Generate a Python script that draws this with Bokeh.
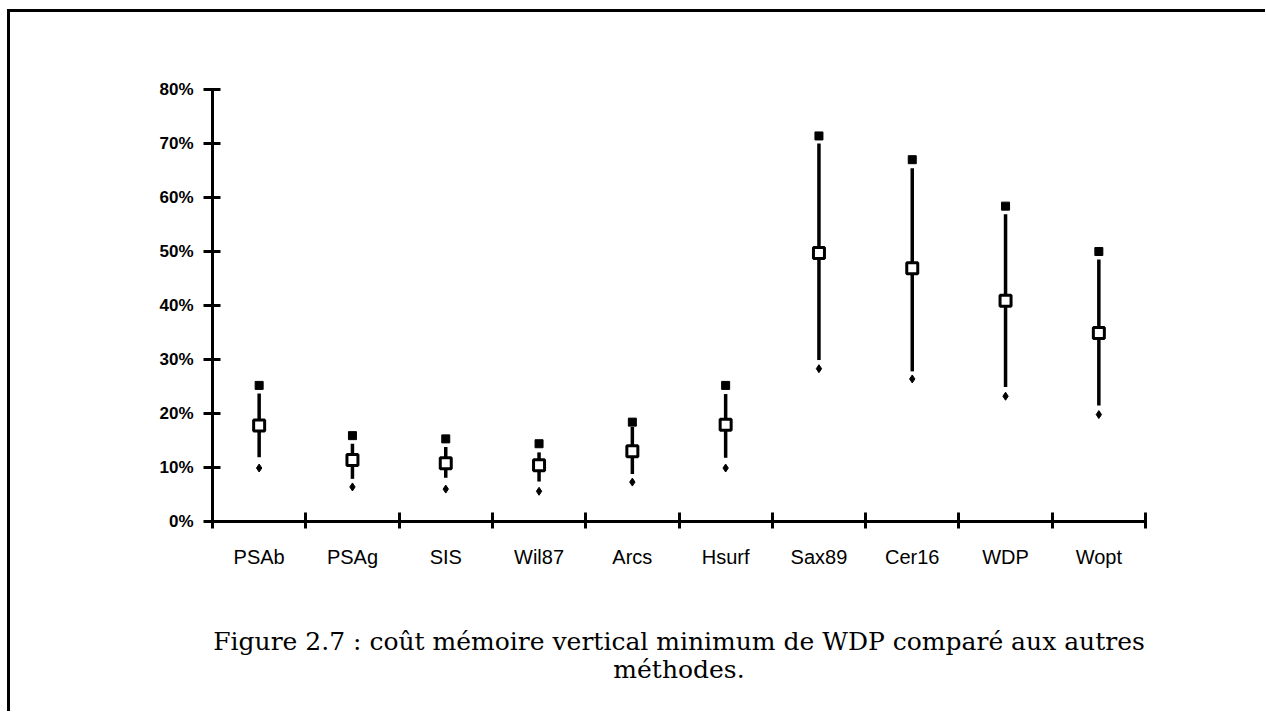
from bokeh.plotting import figure
from bokeh.models import Range1d, FixedTicker, PrintfTickFormatter, Title, ColumnDataSource
from bokeh.embed import file_html
from bokeh.resources import INLINE

categories = ["PSAb", "PSAg", "SIS", "Wil87", "Arcs", "Hsurf", "Sax89", "Cer16", "WDP", "Wopt"]
max_vals = [25.2, 15.9, 15.3, 14.4, 18.4, 25.2, 71.4, 67.0, 58.4, 50.0]
line_top = [23.7, 14.4, 13.8, 12.8, 17.5, 23.6, 70.0, 65.4, 56.9, 48.5]
mean_vals = [17.8, 11.4, 10.8, 10.4, 13.0, 17.9, 49.7, 46.9, 40.9, 34.9]
line_bottom = [11.9, 7.9, 8.1, 7.4, 8.8, 11.8, 29.9, 27.8, 24.9, 21.5]
min_vals = [9.9, 6.4, 6.0, 5.6, 7.3, 9.9, 28.3, 26.4, 23.2, 19.8]
y_ticks = [0, 10, 20, 30, 40, 50, 60, 70, 80]
caption_1 = "Figure 2.7 : coût mémoire vertical minimum de WDP comparé aux autres"
caption_2 = "méthodes."

xs = [i + 0.5 for i in range(len(categories))]
src = ColumnDataSource(dict(x=xs, mx=max_vals, top=line_top, mean=mean_vals,
                            bot=line_bottom, mn=min_vals))

p = figure(frame_width=933, frame_height=432, min_border_left=202, min_border_right=120,
           min_border_top=77, min_border_bottom=190,
           x_range=Range1d(0, len(categories)), y_range=Range1d(0, 80),
           output_backend="svg", toolbar_location=None)
p.styles = {"border-left": "3px solid black", "border-top": "3px solid black",
            "margin-left": "7px", "margin-top": "9px"}
p.outline_line_color = None
p.xgrid.visible = False
p.ygrid.visible = False

# y axis
ya = p.yaxis[0]
ya.ticker = FixedTicker(ticks=y_ticks, minor_ticks=[])
ya.formatter = PrintfTickFormatter(format="%d%%")
ya.axis_line_width = 3
ya.major_tick_line_width = 3
ya.major_tick_in = 8
ya.major_tick_out = 9
ya.minor_tick_line_color = None
ya.major_label_text_font = "Liberation Sans"
ya.major_label_text_font_style = "bold"
ya.major_label_text_font_size = "17px"
ya.major_label_text_color = "black"
ya.major_label_standoff = 10

# x axis (its label carries the first caption line)
xa = p.xaxis[0]
xa.ticker = FixedTicker(ticks=xs, minor_ticks=list(range(len(categories) + 1)))
xa.major_label_overrides = {x: c for x, c in zip(xs, categories)}
xa.axis_line_width = 3
xa.major_tick_line_color = None
xa.major_tick_in = 0
xa.major_tick_out = 0
xa.minor_tick_line_width = 3
xa.minor_tick_line_color = "black"
xa.minor_tick_in = 9
xa.minor_tick_out = 7
xa.major_label_text_font = "Liberation Sans"
xa.major_label_text_font_size = "20px"
xa.major_label_text_color = "black"
xa.major_label_standoff = 17
xa.axis_label = caption_1
xa.axis_label_text_font = "DejaVu Serif"
xa.axis_label_text_font_size = "25px"
xa.axis_label_text_font_style = "normal"
xa.axis_label_text_color = "black"
xa.axis_label_standoff = 56

p.segment(x0="x", y0="bot", x1="x", y1="top", source=src, line_color="black", line_width=3.5)
p.scatter(x="x", y="mx", source=src, marker="square", size=8, fill_color="black", line_color="black")
p.scatter(x="x", y="mn", source=src, marker="diamond", size=8, fill_color="black", line_color="black")
p.scatter(x="x", y="mean", source=src, marker="square", size=11, fill_color="white",
          line_color="black", line_width=3)

p.add_layout(Title(text=caption_2, align="center", text_font="DejaVu Serif",
                   text_font_size="25px", text_font_style="normal", text_color="black",
                   text_line_height=1.0, standoff=-8, vertical_align="top"), "below")

open("out.html", "w").write(file_html(p, INLINE))
